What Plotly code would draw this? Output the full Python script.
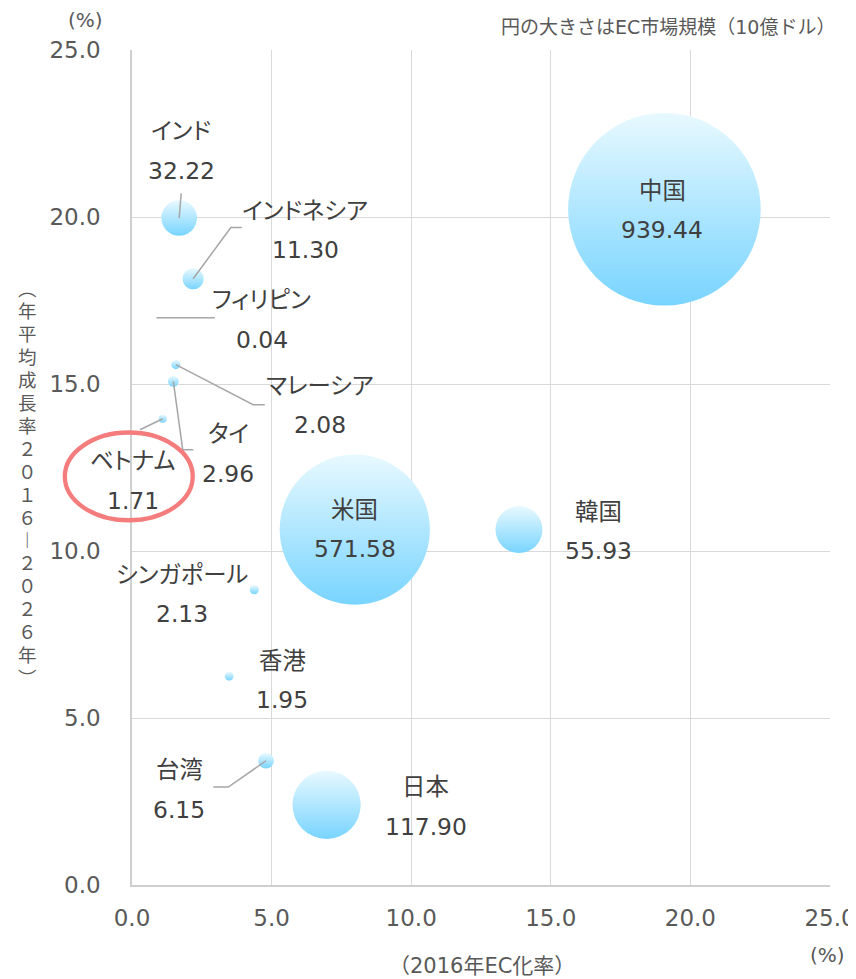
import plotly.graph_objects as go

# ---- data ----
countries = ["中国", "米国", "日本", "韓国", "インド", "インドネシア", "フィリピン",
             "マレーシア", "タイ", "ベトナム", "シンガポール", "香港", "台湾"]
ec_rate = [19.07, 7.98, 6.97, 13.86, 1.69, 2.19, 0.88, 1.57, 1.48, 1.10, 4.38, 3.48, 4.80]
growth = [20.23, 10.64, 2.40, 10.64, 19.97, 18.15, 16.98, 15.58, 15.08, 13.96, 8.84, 6.25, 3.72]
market = [939.44, 571.58, 117.90, 55.93, 32.22, 11.30, 0.04, 2.08, 2.96, 1.71, 2.13, 1.95, 6.15]
x_ticks = [0, 5, 10, 15, 20, 25]
y_ticks = [0, 5, 10, 15, 20, 25]

# ---- label placement (screen pixel offsets from the point, y down) ----
label_offset = {
    "中国": (-2, 1), "米国": (0, 0), "日本": (99, 2), "韓国": (80, 2),
    "インド": (2, -67), "インドネシア": (112, -48.5), "フィリピン": (105, 2),
    "マレーシア": (144, 41), "タイ": (55, 72.5), "ベトナム": (-30, 62.3),
    "シンガポール": (-72.6, 5), "香港": (53, 4), "台湾": (-87, 29),
}
leaders = {
    "インド": [(0, 0), (2, -24.6)],
    "インドネシア": [(0, 0), (37.7, -51.3), (48.7, -51.3)],
    "フィリピン": [(0, 0), (58.3, 0)],
    "マレーシア": [(0, 0), (77.3, 40), (89, 40)],
    "タイ": [(0, 0), (9.4, 68.3), (20, 68.3)],
    "ベトナム": [(0, 0), (-22.7, 11)],
    "台湾": [(0, 0), (-37.7, 26.3), (-52.7, 26.3)],
}

FONT = "DejaVu Sans, Noto Sans CJK JP"
LABEL_COLOR = "#404040"
TICK_COLOR = "#595959"
GRID = "#D9D9D9"


def palt(s):
    return "<span style=\"font-feature-settings:'palt'\">" + s + "</span>"


max_diam = 192.6
sizeref = 2.0 * max(market) / max_diam ** 2

fig = go.Figure()
fig.add_trace(go.Scatter(
    x=ec_rate, y=growth, mode="markers",
    marker=dict(size=market, sizemode="area", sizeref=sizeref, sizemin=0,
                color="#E8F9FF", opacity=1,
                gradient=dict(type="vertical", color="#78D4FF"),
                line=dict(width=0)),
    hoverinfo="skip", showlegend=False,
))

annotations = []
shapes = []
for name, xv, yv, mv in zip(countries, ec_rate, growth, market):
    dx, dy = label_offset[name]
    for txt, sh in ((palt(name), 19.75), (f"{mv:.2f}", -19.75)):
        annotations.append(dict(
            x=xv, y=yv, xref="x", yref="y", text=txt, showarrow=False,
            xshift=dx, yshift=-dy + sh, xanchor="center", yanchor="middle",
            font=dict(family=FONT, size=23.4, color=LABEL_COLOR)))
    if name in leaders:
        pts = leaders[name]
        path = "M" + " L".join(f"{px},{-py}" for px, py in pts)
        shapes.append(dict(type="path", xref="x", yref="y", xsizemode="pixel",
                           ysizemode="pixel", xanchor=xv, yanchor=yv, path=path,
                           line=dict(color="#A6A6A6", width=1.5), layer="above"))

# highlight ellipse around the Vietnam label
shapes.append(dict(type="circle", xref="paper", yref="paper",
                   x0=-0.0962, x1=0.0870, y0=0.4368, y1=0.5419,
                   line=dict(color="#F47C7C", width=4.3), layer="above"))

# vertical y-axis title, one character per line
ytitle_chars = list("︵年平均成長率２０１６︱２０２６年︶")
step = 22.9 / 835.0
y_mid = 0.4806
n = len(ytitle_chars)
for i, ch in enumerate(ytitle_chars):
    annotations.append(dict(
        xref="paper", yref="paper", x=-0.150, y=y_mid + ((n - 1) / 2 - i) * step,
        text=ch, showarrow=False, xanchor="center", yanchor="middle", borderpad=0,
        font=dict(family=FONT, size=18.5, color=TICK_COLOR)))

annotations += [
    dict(xref="paper", yref="paper", x=-0.0673, y=1.0363, text="(%)", showarrow=False,
         xanchor="center", yanchor="middle", font=dict(family=FONT, size=20, color=TICK_COLOR)),
    dict(xref="paper", yref="paper", x=1.010, y=1.0279, text="円の大きさはEC市場規模（10億ドル）",
         showarrow=False, xanchor="right", yanchor="middle",
         font=dict(family=FONT, size=19, color=TICK_COLOR)),
    dict(xref="paper", yref="paper", x=0.501, y=-0.0966, text="（2016年EC化率）", showarrow=False,
         xanchor="center", yanchor="middle", font=dict(family=FONT, size=21, color=TICK_COLOR)),
    dict(xref="paper", yref="paper", x=0.9964, y=-0.0835, text="(%)", showarrow=False,
         xanchor="center", yanchor="middle", font=dict(family=FONT, size=20, color=TICK_COLOR)),
]

axis_common = dict(range=[0, 25], tickmode="array", tickformat=".1f",
                   showgrid=True, gridcolor=GRID, gridwidth=1.3,
                   showline=True, linecolor="#CFCFCF", linewidth=1.5, mirror=False,
                   zeroline=False, ticks="", automargin=False,
                   tickfont=dict(family=FONT, size=23, color=TICK_COLOR), fixedrange=True)

# the page body adds an 8px offset, so the figure is 8px smaller than the window
fig.update_layout(
    width=848, height=971,
    margin=dict(l=124, r=25.5, t=42.3, b=93.7),
    paper_bgcolor="white", plot_bgcolor="white",
    xaxis=dict(axis_common, tickvals=x_ticks, ticklabelstandoff=12),
    yaxis=dict(axis_common, tickvals=y_ticks, ticklabelstandoff=25),
    annotations=annotations, shapes=shapes,
    font=dict(family=FONT),
)

fig.write_html("out.html", config={"displayModeBar": False})
